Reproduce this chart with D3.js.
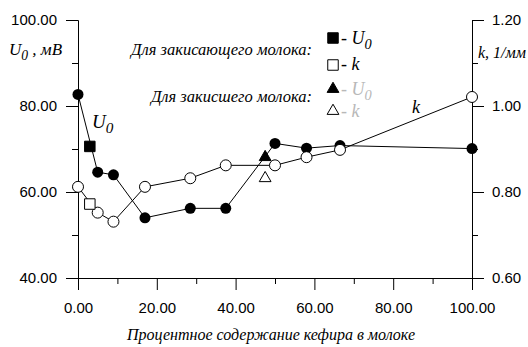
<!DOCTYPE html>
<html>
<head>
<meta charset="utf-8">
<script src="https://cdn.jsdelivr.net/npm/d3@7"></script>
<style>
  body { margin: 0; background: #fff; }
</style>
</head>
<body>
<div id="chart"></div>
<script>
'use strict';

// percentage of kefir in milk, series "закисающего молока" (circles)
var pct = [ 0, 5, 9, 17, 28.5, 37.5, 50, 58, 66.5, 100 ];
var u0 = [ 82.7, 64.6, 64.0, 54.0, 56.2, 56.2, 71.3, 70.2, 70.8, 70.1 ];
var kVal = [ 0.812, 0.752, 0.731, 0.812, 0.832, 0.862, 0.862, 0.881, 0.898, 1.021 ];

// single squares (закисающего) and triangles (закисшего)
var squarePct = [ 3 ],
    squareU0 = [ 70.6 ],
    squareK = [ 0.772 ];
var trianglePct = [ 47.5 ],
    triangleU0 = [ 68.1 ],
    triangleK = [ 0.832 ];

var xTicks = [ 0, 20, 40, 60, 80, 100 ],
    xMinor = [ 10, 30, 50, 70, 90 ];
var uTicks = [ 40, 60, 80, 100 ],
    uMinor = [ 50, 70, 90 ];
var kTicks = [ 0.6, 0.8, 1.0, 1.2 ],
    kMinor = [ 0.7, 0.9, 1.1 ];

var width = 528, height = 347;
var margin = { top: 20, right: 56, bottom: 69, left: 78 };
var sansFont = '"Liberation Sans"',
    serifFont = '"Liberation Serif"';

var svg = d3.select( '#chart' )
  .append( 'svg' )
    .attr( 'width', width )
    .attr( 'height', height );

var x = d3.scaleLinear().domain( [ 0, 100 ] ).range( [ margin.left, width - margin.right ] );
var yU = d3.scaleLinear().domain( [ 40, 100 ] ).range( [ height - margin.bottom, margin.top ] );
var yK = d3.scaleLinear().domain( [ 0.6, 1.2 ] ).range( [ height - margin.bottom, margin.top ] );
var fmt = d3.format( '.2f' );
var x0 = margin.left, x1 = width - margin.right, yb = height - margin.bottom;

function styleAxis( g ) {
  g.attr( 'font-family', null ).attr( 'font-size', null );
  g.selectAll( 'text' )
      .style( 'font-family', sansFont )
      .style( 'font-size', '15px' )
      .attr( 'fill', '#000' );
  g.selectAll( 'path, line' ).attr( 'stroke', '#000' );
}

// axes: major with labels, minor without
svg.append( 'g' )
    .attr( 'transform', 'translate(0,' + yb + ')' )
    .call( d3.axisBottom( x ).tickValues( xTicks ).tickSize( 12 ).tickSizeOuter( 0 ).tickPadding( 12 ).tickFormat( fmt ) )
    .call( styleAxis );
svg.append( 'g' )
    .attr( 'transform', 'translate(0,' + yb + ')' )
    .call( d3.axisBottom( x ).tickValues( xMinor ).tickSize( 6 ).tickSizeOuter( 0 ).tickFormat( '' ) )
    .call( styleAxis );

svg.append( 'g' )
    .attr( 'transform', 'translate(' + x0 + ',0)' )
    .call( d3.axisLeft( yU ).tickValues( uTicks ).tickSize( 12 ).tickSizeOuter( 0 ).tickPadding( 9 ).tickFormat( fmt ) )
    .call( styleAxis );
svg.append( 'g' )
    .attr( 'transform', 'translate(' + x0 + ',0)' )
    .call( d3.axisLeft( yU ).tickValues( uMinor ).tickSize( 6 ).tickSizeOuter( 0 ).tickFormat( '' ) )
    .call( styleAxis );

svg.append( 'g' )
    .attr( 'transform', 'translate(' + x1 + ',0)' )
    .call( d3.axisRight( yK ).tickValues( kTicks ).tickSize( 12 ).tickSizeOuter( 0 ).tickPadding( 8 ).tickFormat( fmt ) )
    .call( styleAxis );
svg.append( 'g' )
    .attr( 'transform', 'translate(' + x1 + ',0)' )
    .call( d3.axisRight( yK ).tickValues( kMinor ).tickSize( 6 ).tickSizeOuter( 0 ).tickFormat( '' ) )
    .call( styleAxis );

// lines
var lineU = d3.line()
    .x( function( d, i ) { return x( pct[ i ] ); } )
    .y( function( d ) { return yU( d ); } );
var lineK = d3.line()
    .x( function( d, i ) { return x( pct[ i ] ); } )
    .y( function( d ) { return yK( d ); } );

svg.append( 'path' ).datum( u0 )
    .attr( 'd', lineU ).attr( 'fill', 'none' ).attr( 'stroke', '#000' ).attr( 'stroke-width', 1 );
svg.append( 'path' ).datum( kVal )
    .attr( 'd', lineK ).attr( 'fill', 'none' ).attr( 'stroke', '#000' ).attr( 'stroke-width', 1 );

// markers
var r = 5.5;
svg.selectAll( 'circle.u' )
    .data( u0 )
  .enter().append( 'circle' )
    .attr( 'cx', function( d, i ) { return x( pct[ i ] ); } )
    .attr( 'cy', function( d ) { return yU( d ); } )
    .attr( 'r', r )
    .attr( 'fill', '#000' );
svg.selectAll( 'circle.k' )
    .data( kVal )
  .enter().append( 'circle' )
    .attr( 'cx', function( d, i ) { return x( pct[ i ] ); } )
    .attr( 'cy', function( d ) { return yK( d ); } )
    .attr( 'r', r )
    .attr( 'fill', '#fff' )
    .attr( 'stroke', '#000' );

var sq = d3.symbol().type( d3.symbolSquare ).size( 110 );
var tri = d3.symbol().type( d3.symbolTriangle ).size( 60 );

function marker( gen, px, py, fill ) {
  svg.append( 'path' )
      .attr( 'd', gen() )
      .attr( 'transform', 'translate(' + px + ',' + py + ')' )
      .attr( 'fill', fill )
      .attr( 'stroke', '#000' )
      .attr( 'stroke-width', 1 );
}

squarePct.forEach( function( p, i ) {
  marker( sq, x( p ), yU( squareU0[ i ] ), '#000' );
  marker( sq, x( p ), yK( squareK[ i ] ), '#fff' );
} );
trianglePct.forEach( function( p, i ) {
  marker( tri, x( p ), yU( triangleU0[ i ] ), '#000' );
  marker( tri, x( p ), yK( triangleK[ i ] ), '#fff' );
} );

// labels
function italicText( tx, ty, size, parts, anchor, color ) {
  var t = svg.append( 'text' )
      .attr( 'x', tx ).attr( 'y', ty )
      .style( 'font-family', serifFont )
      .style( 'font-style', 'italic' )
      .style( 'font-size', size + 'px' )
      .attr( 'text-anchor', anchor || 'start' )
      .style( 'fill', color || '#000' );
  parts.forEach( function( p ) {
    var s = t.append( 'tspan' ).text( p.t );
    if ( p.sub ) s.attr( 'dy', 5 ).style( 'font-size', ( size * 0.8 ) + 'px' );
    if ( p.up ) s.attr( 'dy', -5 );
  } );
  return t;
}

italicText( 9, 55, 17, [ { t: 'U' }, { t: '0', sub: true }, { t: ' , мВ', up: true } ] );
italicText( 478, 58, 16, [ { t: 'k, 1/мм' } ] );
italicText( 92, 128, 19, [ { t: 'U' }, { t: '0', sub: true } ] );
italicText( 412, 113, 18, [ { t: 'k' } ] );
italicText( 312, 55, 16.5, [ { t: 'Для закисающего молока:' } ], 'end' );
italicText( 312, 102, 16.5, [ { t: 'Для закисшего молока:' } ], 'end' );
italicText( 271, 340, 16, [ { t: 'Процентное содержание кефира в молоке' } ], 'middle' );

// legend
var lx = 333;
marker( sq, lx, 38, '#000' );
marker( sq, lx, 65, '#fff' );
marker( tri, lx, 89, '#000' );
marker( tri, lx, 111, '#fff' );
italicText( lx + 8, 44, 18, [ { t: '- U' }, { t: '0', sub: true } ] );
italicText( lx + 8, 70, 18, [ { t: '- k' } ] );
italicText( lx + 8, 95, 18, [ { t: '- U' }, { t: '0', sub: true } ], 'start', '#b8b8b8' );
italicText( lx + 8, 117, 18, [ { t: '- k' } ], 'start', '#b8b8b8' );
</script>
</body>
</html>
